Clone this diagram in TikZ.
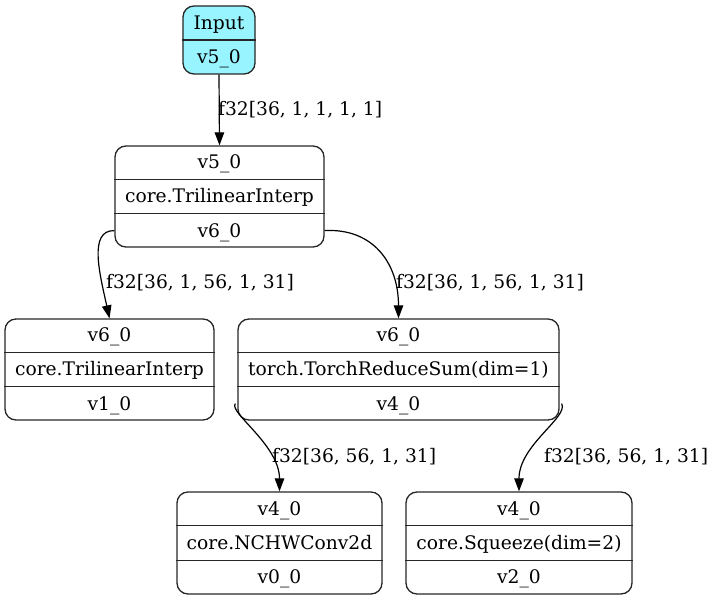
\documentclass[tikz,border=0pt]{standalone}
\usepackage{fontspec}
\setmainfont{DejaVu Serif}
\usetikzlibrary{arrows.meta,calc}
\definecolor{inpfill}{RGB}{152,245,255}
\begin{document}
\begin{tikzpicture}[x=1pt,y=-1pt,
  box/.style={draw=black!85, line width=1.3pt, rounded corners=11pt, inner sep=0pt},
  divline/.style={draw=black!85, line width=1.3pt},
  txt/.style={font=\fontsize{18.67}{22}\selectfont, inner sep=0pt, anchor=base},
  lbl/.style={font=\fontsize{18.67}{22}\selectfont, inner sep=0pt, anchor=west},
  conn/.style={line width=1.2pt, -{Triangle[length=13pt,width=9.5pt]}},
]
\useasboundingbox (0,0) rectangle (715,601);

% Input node
\node[box, fill=inpfill, minimum width=72pt, minimum height=68pt] (inp) at (219,40) {};
\draw[divline] (inp.west) -- (inp.east);
\path ($(inp.north)!0.25!(inp.south)$) ++(0,6.5) node[txt] (inpa) {Input};
\path ($(inp.north)!0.75!(inp.south)$) ++(0,6.5) node[txt] (inpb) {v5\_0};

% three-row records
\node[box, minimum width=209pt, minimum height=101pt] (n1) at (219.5,196.5) {};
\node[box, minimum width=209pt, minimum height=101pt] (n2) at (109.5,369.5) {};
\node[box, minimum width=321pt, minimum height=101pt] (n3) at (398.5,369.5) {};
\node[box, minimum width=205pt, minimum height=102pt] (n4) at (279.5,543) {};
\node[box, minimum width=226pt, minimum height=102pt] (n5) at (519,543) {};

\foreach \n in {n1,n2,n3,n4,n5}{
  \draw[divline] ($(\n.north west)!1/3!(\n.south west)$) -- ($(\n.north east)!1/3!(\n.south east)$);
  \draw[divline] ($(\n.north west)!2/3!(\n.south west)$) -- ($(\n.north east)!2/3!(\n.south east)$);
}

\path ($(n1.north)!1/6!(n1.south)$) ++(0,6.5) node[txt] (n1a) {v5\_0};
\path ($(n1.north)!3/6!(n1.south)$) ++(0,6.5) node[txt] (n1b) {core.TrilinearInterp};
\path ($(n1.north)!5/6!(n1.south)$) ++(0,6.5) node[txt] (n1c) {v6\_0};

\path ($(n2.north)!1/6!(n2.south)$) ++(0,6.5) node[txt] (n2a) {v6\_0};
\path ($(n2.north)!3/6!(n2.south)$) ++(0,6.5) node[txt] (n2b) {core.TrilinearInterp};
\path ($(n2.north)!5/6!(n2.south)$) ++(0,6.5) node[txt] (n2c) {v1\_0};

\path ($(n3.north)!1/6!(n3.south)$) ++(0,6.5) node[txt] (n3a) {v6\_0};
\path ($(n3.north)!3/6!(n3.south)$) ++(0,6.5) node[txt] (n3b) {torch.TorchReduceSum(dim=1)};
\path ($(n3.north)!5/6!(n3.south)$) ++(0,6.5) node[txt] (n3c) {v4\_0};

\path ($(n4.north)!1/6!(n4.south)$) ++(0,6.5) node[txt] (n4a) {v4\_0};
\path ($(n4.north)!3/6!(n4.south)$) ++(0,6.5) node[txt] (n4b) {core.NCHWConv2d};
\path ($(n4.north)!5/6!(n4.south)$) ++(0,6.5) node[txt] (n4c) {v0\_0};

\path ($(n5.north)!1/6!(n5.south)$) ++(0,6.5) node[txt] (n5a) {v4\_0};
\path ($(n5.north)!3/6!(n5.south)$) ++(0,6.5) node[txt] (n5b) {core.Squeeze(dim=2)};
\path ($(n5.north)!5/6!(n5.south)$) ++(0,6.5) node[txt] (n5c) {v2\_0};

% ports
\coordinate (p1l) at ($(n1.south west)!1/6!(n1.north west)$);
\coordinate (p1r) at ($(n1.south east)!1/6!(n1.north east)$);
\coordinate (p3l) at ($(n3.south west)!1/6!(n3.north west)+(-2,0)$);
\coordinate (p3r) at ($(n3.south east)!1/6!(n3.north east)+(2,0)$);

% connectors
\draw[conn] (inp.south) -- (n1.north);
\node[lbl] (l1) at (218,110) {f32[36, 1, 1, 1, 1]};

\draw[conn] (p1l) .. controls (88,230) and (100,275) .. (n2.north);
\node[lbl] (l2) at (106,283) {f32[36, 1, 56, 1, 31]};

\draw[conn] (p1r) .. controls (372,228) and (398.5,262) .. (n3.north);
\node[lbl] (l3) at (396,283) {f32[36, 1, 56, 1, 31]};

\draw[conn] (p3l) .. controls (228,412) and (279.5,445) .. (n4.north);
\node[lbl] (l4) at (272,457) {f32[36, 56, 1, 31]};

\draw[conn] (p3r) .. controls (569,417) and (519,445) .. (n5.north);
\node[lbl] (l5) at (544,457) {f32[36, 56, 1, 31]};
\end{tikzpicture}
\end{document}
